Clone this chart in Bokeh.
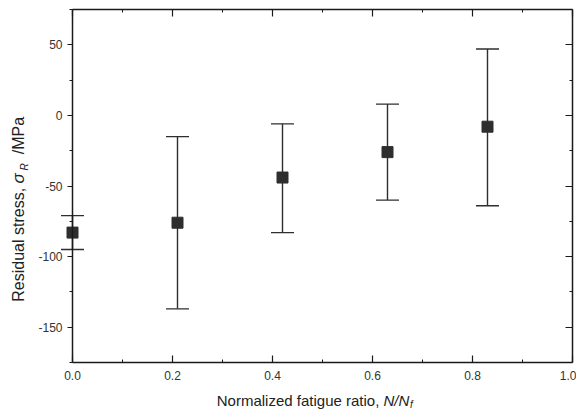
from bokeh.plotting import figure
from bokeh.models import (Range1d, LinearAxis, Whisker, TeeHead, ColumnDataSource,
                          Label, FixedTicker)
from bokeh.embed import file_html
from bokeh.resources import INLINE
import math

# ---- data ----
ratio = [0.0, 0.21, 0.42, 0.63, 0.83]
stress = [-83, -76, -44, -26, -8]
upper = [-71, -15, -6, 8, 47]
lower = [-95, -137, -83, -60, -64]

x_ticks = [0.0, 0.2, 0.4, 0.6, 0.8, 1.0]
x_minor = [0.1, 0.3, 0.5, 0.7, 0.9]
x_tick_labels = ["0.0", "0.2", "0.4", "0.6", "0.8", "1.0"]
y_ticks = [-150, -100, -50, 0, 50]
y_minor = [-175, -125, -75, -25, 25, 75]
y_tick_labels = ["-150", "-100", "-50", "0", "50"]
x_lim = (0.0, 1.0)
y_lim = (-175, 75)

FONT = "Liberation Sans"
AX = "#1a1a1a"
MK = "#2e2e2e"
TXT = "#222222"

# the frame fills the whole canvas; axes are drawn at fixed data locations
p = figure(width=576, height=412, output_backend="svg", toolbar_location=None,
           x_range=Range1d(-0.144, 1.008), y_range=Range1d(-210.4, 81.37),
           x_axis_location=None, y_axis_location=None,
           min_border_left=0, min_border_right=0, min_border_top=0,
           min_border_bottom=0)
p.outline_line_color = None
p.grid.visible = False
p.background_fill_color = "white"
p.border_fill_color = "white"


def style(ax, tin, tout):
    ax.axis_line_color = AX
    ax.axis_line_width = 1.5
    ax.major_tick_line_color = AX
    ax.minor_tick_line_color = AX
    ax.major_tick_line_width = 1.2
    ax.minor_tick_line_width = 1.0
    ax.major_tick_in = tin
    ax.major_tick_out = tout
    ax.minor_tick_in = 3 if tin else 0
    ax.minor_tick_out = 3 if tout else 0
    ax.major_label_text_font = FONT
    ax.major_label_text_font_size = "12px"
    ax.major_label_text_color = "#333333"


bottom = LinearAxis(ticker=FixedTicker(ticks=x_ticks, minor_ticks=x_minor),
                    fixed_location=y_lim[0], bounds=x_lim,
                    major_label_overrides={v: s for v, s in zip(x_ticks, x_tick_labels)})
style(bottom, 7, 0)
bottom.major_label_standoff = 8
p.add_layout(bottom, "below")

top = LinearAxis(ticker=FixedTicker(ticks=x_ticks, minor_ticks=x_minor),
                 fixed_location=y_lim[1], bounds=x_lim,
                 major_label_overrides={v: "" for v in x_ticks})
style(top, 7, 0)
p.add_layout(top, "above")

left = LinearAxis(ticker=FixedTicker(ticks=y_ticks, minor_ticks=y_minor),
                  fixed_location=x_lim[0], bounds=y_lim,
                  major_label_overrides={v: s for v, s in zip(y_ticks, y_tick_labels)})
style(left, 0, 5)
left.major_label_standoff = 5
p.add_layout(left, "left")

right = LinearAxis(ticker=FixedTicker(ticks=y_ticks, minor_ticks=y_minor),
                   fixed_location=x_lim[1], bounds=y_lim,
                   major_label_overrides={v: "" for v in y_ticks})
style(right, 7, 0)
p.add_layout(right, "right")

src = ColumnDataSource(dict(x=ratio, y=stress, upper=upper, lower=lower))
wh = Whisker(base="x", upper="upper", lower="lower", source=src, dimension="height",
             line_color=MK, line_width=1.4, level="underlay",
             upper_head=TeeHead(size=23, line_color=MK, line_width=1.4),
             lower_head=TeeHead(size=23, line_color=MK, line_width=1.4))
p.add_layout(wh)
p.scatter("x", "y", source=src, marker="square", size=11, fill_color=MK,
          line_color=MK)

# ---- axis titles built from text pieces ----
ylab = -201.9
p.add_layout(Label(x=0.622, y=ylab, text="Normalized fatigue ratio, ", text_align="right",
                   text_baseline="middle", text_font=FONT, text_font_size="15px",
                   text_color=TXT))
p.add_layout(Label(x=0.622, y=ylab, text="N/N", text_align="left",
                   text_baseline="middle", text_font=FONT, text_font_size="15px",
                   text_font_style="italic", text_color=TXT))
p.add_layout(Label(x=0.675, y=ylab - 2.5, text="f", text_align="left",
                   text_baseline="middle", text_font=FONT, text_font_size="10px",
                   text_font_style="italic", text_color=TXT))

xl = -0.108
p.add_layout(Label(x=xl, y=-48.2, text="Residual stress, ", text_align="right",
                   text_baseline="middle", angle=math.pi / 2, text_font=FONT,
                   text_font_size="16px", text_color=TXT))
p.add_layout(Label(x=xl, y=-48.2, text="\u03c3", text_align="left",
                   text_baseline="middle", angle=math.pi / 2, text_font=FONT,
                   text_font_size="17px", text_font_style="italic", text_color=TXT))
p.add_layout(Label(x=xl + 0.011, y=-39.0, text="R", text_align="left",
                   text_baseline="middle", angle=math.pi / 2, text_font=FONT,
                   text_font_size="10px", text_font_style="italic", text_color=TXT))
p.add_layout(Label(x=xl, y=-27.5, text="/MPa", text_align="left",
                   text_baseline="middle", angle=math.pi / 2, text_font=FONT,
                   text_font_size="16px", text_color=TXT))

open("out.html", "w").write(file_html(p, INLINE))
